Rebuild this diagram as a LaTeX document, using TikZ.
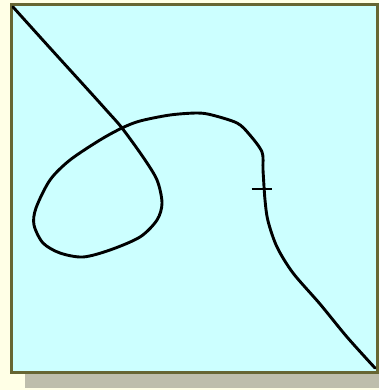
\documentclass[tikz,border=0pt]{standalone}
\usetikzlibrary{calc}
\definecolor{cream}{RGB}{255,255,230}
\definecolor{paper}{RGB}{204,255,255}
\definecolor{olive}{RGB}{102,102,51}
\definecolor{shadowgray}{RGB}{190,190,172}
\tikzset{
  curveline/.style={line width=2.9pt, black, line join=round, line cap=round},
  framebox/.style={fill=paper, draw=olive, line width=3pt},
  markline/.style={line width=2.3pt, black}
}
\begin{document}
\begin{tikzpicture}[x=1pt,y=-1pt]
\useasboundingbox (0,0) rectangle (379,390);
\fill[cream] (0,0) rectangle (379,390);
\fill[shadowgray] (25,18) rectangle (379,388);
\draw[framebox] (11.5,4.5) rectangle (377,372);
\draw[curveline] plot[smooth, tension=0.5] coordinates {
 (13,7) (50,48) (90,92) (108,112) (122,128) (143,157) (157,180) (162,203)
 (157,220) (140,237) (110,250) (83,257) (60,253) (43,243) (34,225) (36,208)
 (50,180) (70,160) (100,140) (122,128) (140,121) (170,115) (197,113) (212,115)
 (237,123) (249,134) (262,152) (263,170) (265,200) (268,221) (277,247)
 (293,273) (320,304) (347,337) (375,368)};
\coordinate (cm) at (261.5,189);
\draw[markline] ($(cm)+(-10,0)$) -- ($(cm)+(10,0)$);
\end{tikzpicture}
\end{document}
